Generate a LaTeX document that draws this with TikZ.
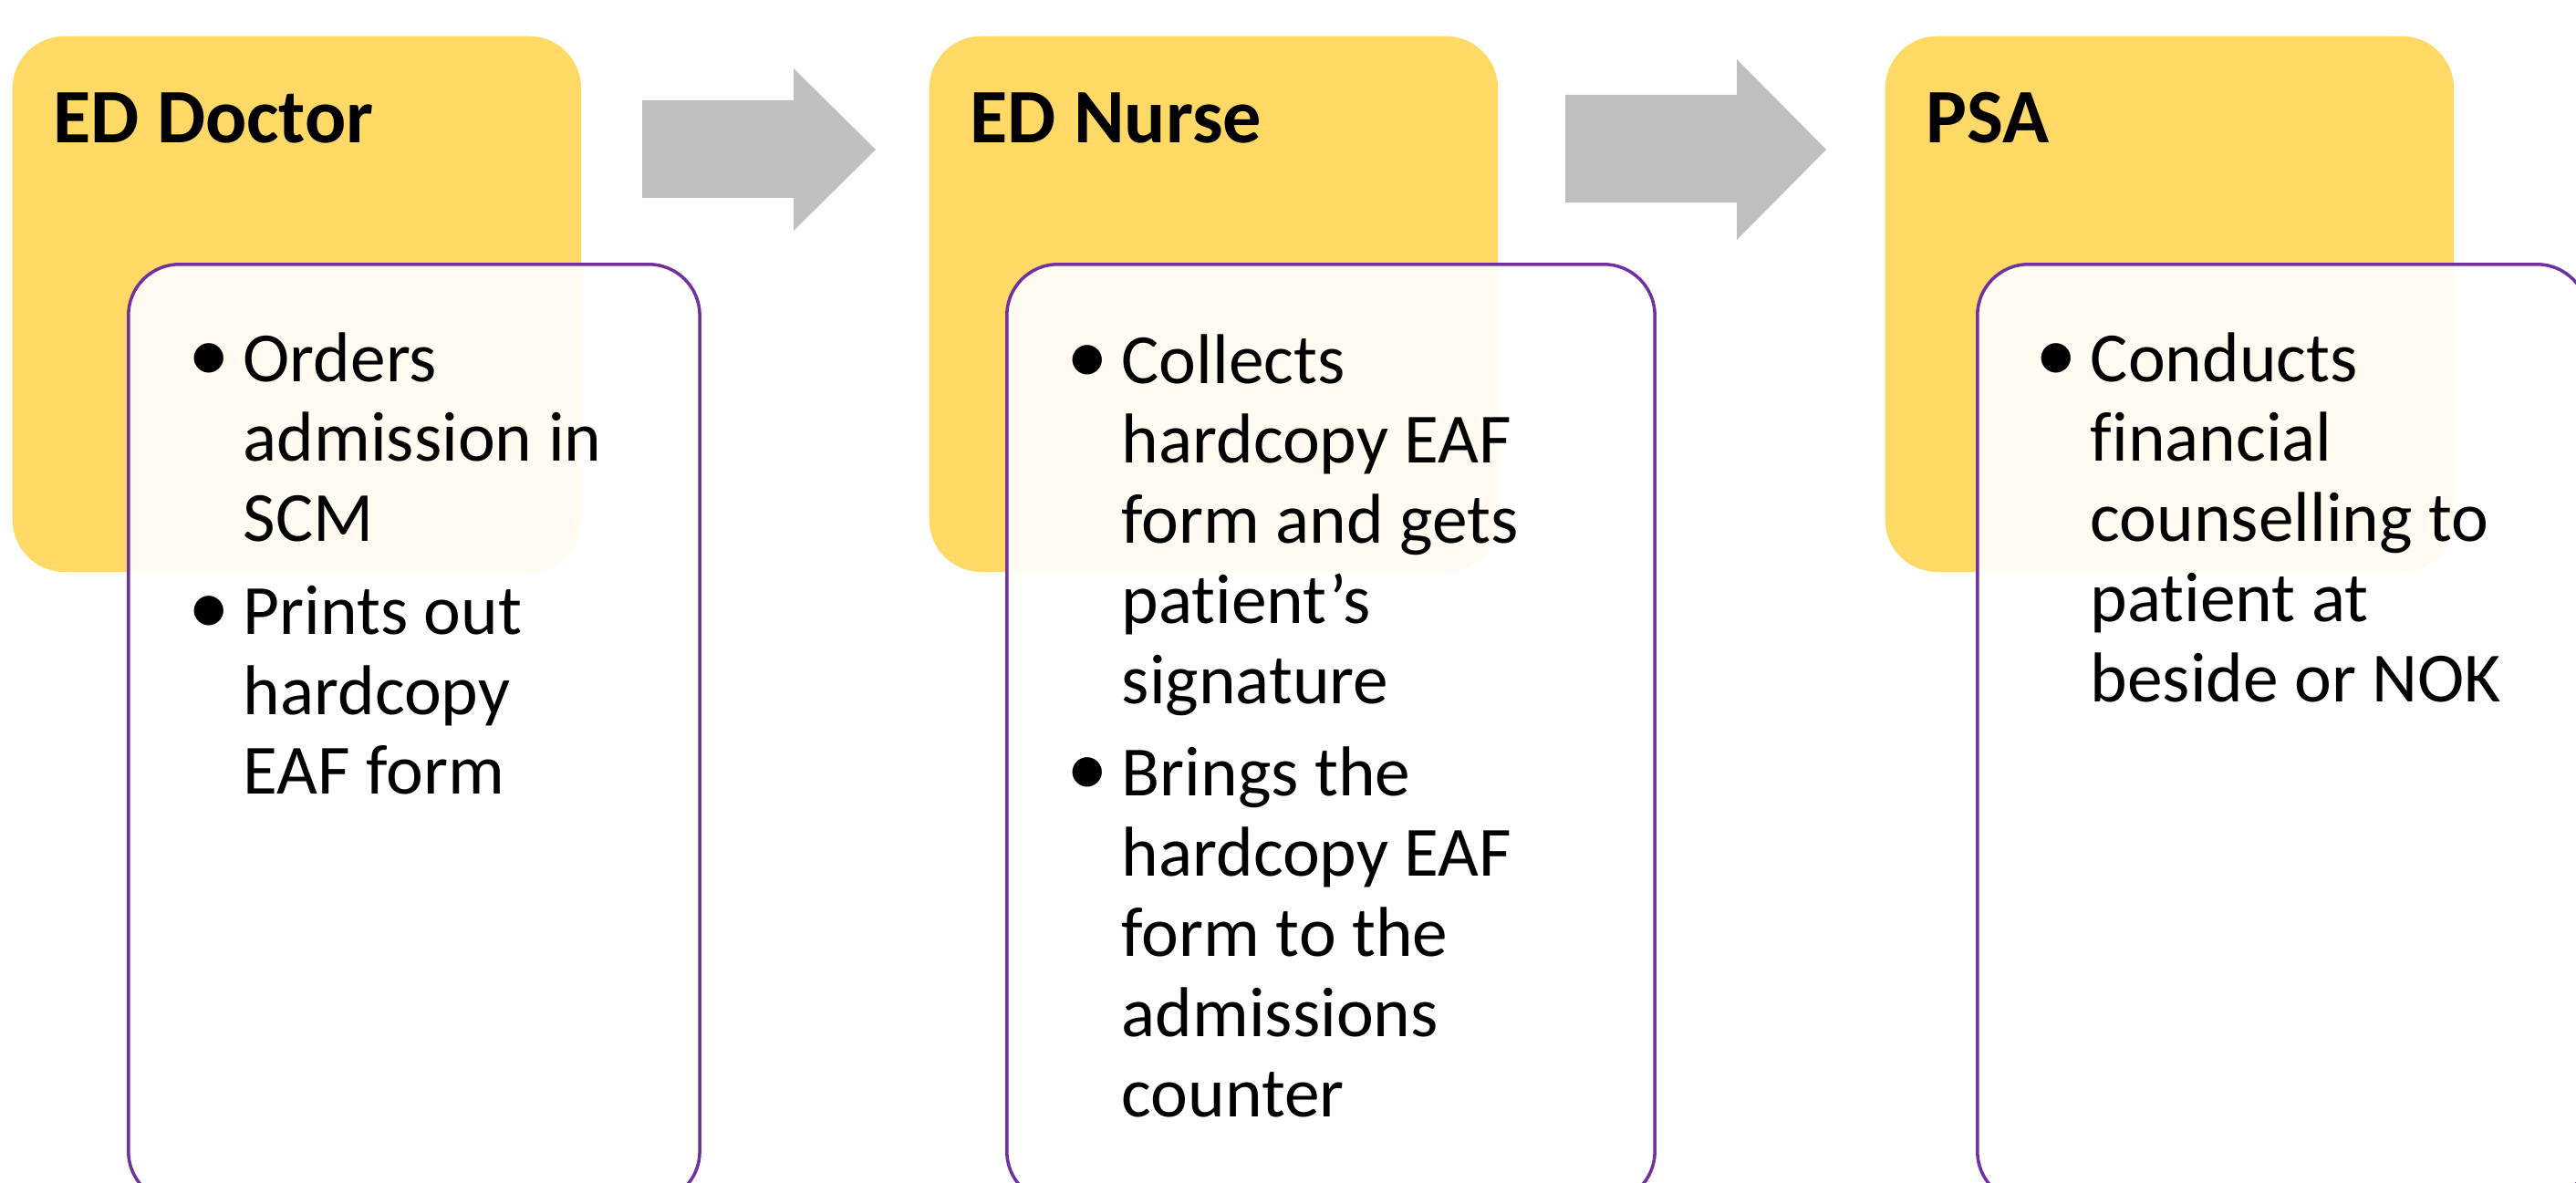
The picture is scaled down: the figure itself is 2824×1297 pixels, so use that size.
\documentclass[tikz,border=0pt]{standalone}
\usepackage{fontspec}
\setmainfont{Carlito}[Ligatures=NoCommon]
\definecolor{roleyellow}{RGB}{255, 217, 102}
\definecolor{notepurple}{RGB}{112, 48, 160}
\definecolor{arrowgray}{RGB}{191, 191, 191}
\usepackage{tikz}
\usetikzlibrary{positioning, calc}
\newcommand{\notebullet}{{\fontsize{26}{25}\selectfont\textbullet}}

\begin{document}
\begin{tikzpicture}[x=0.01cm, y=-0.01cm,
  rolebox/.style={fill=roleyellow, rounded corners=0.57cm, minimum width=6.23cm, minimum height=5.87cm, inner sep=0pt, anchor=north west},
  notebox/.style={draw=notepurple, line width=1pt, fill=white, fill opacity=0.9, rounded corners=0.56cm, inner sep=0pt, anchor=north west, minimum height=10.28cm},
  roletitle/.style={font=\bfseries\fontsize{24}{29}\selectfont, anchor=base west, inner sep=0pt},
  notetext/.style={font=\fontsize{22}{25}\selectfont, anchor=base west, inner sep=0pt, align=left},
  blockarrow/.style={fill=arrowgray}]
  \useasboundingbox (0,0) rectangle (2824,1297);
  \clip (0,0) rectangle (2824,1297);

  % Roles
  \node[rolebox] (doc) at (13,39) {};
  \node[rolebox] (nurse) at (1018,39) {};
  \node[rolebox] (psa) at (2066,39) {};

  \node[roletitle] (docT) at ([shift={(45,118)}]doc.north west) {ED Doctor};
  \node[roletitle] (nurseT) at ([shift={(45,118)}]nurse.north west) {ED Nurse};
  \node[roletitle] (psaT) at ([shift={(45,118)}]psa.north west) {PSA};

  % Flow arrows
  \coordinate (arr1) at (704,164);
  \coordinate (arr2) at (1716,163);
  \fill[blockarrow] (arr1) ++(0,-54) -- ++(166,0) -- ++(0,-35) -- ++(90,89) -- ++(-90,89) -- ++(0,-36) -- ++(-166,0) -- cycle;
  \fill[blockarrow] (arr2) ++(0,-59) -- ++(188,0) -- ++(0,-39) -- ++(98,99) -- ++(-98,99) -- ++(0,-41) -- ++(-188,0) -- cycle;

  % Tasks
  \node[notebox, minimum width=6.26cm] (docN) at (139,288) {};
  \node[notebox, minimum width=7.10cm] (nurseN) at (1102,288) {};
  \node[notebox, minimum width=6.69cm] (psaN) at (2166,288) {};

  \node[notetext] (docL) at ([shift={(67,130)}]docN.north west) {%
    \begin{tabular}[t]{@{}p{0.6cm}@{}l@{}}
      \notebullet & Orders\\
      & admission in\\
      & SCM\\[3.8pt]
      \notebullet & Prints out\\
      & hardcopy\\
      & EAF form
    \end{tabular}};
  \node[notetext] (nurseL) at ([shift={(67,132)}]nurseN.north west) {%
    \begin{tabular}[t]{@{}p{0.6cm}@{}l@{}}
      \notebullet & Collects\\
      & hardcopy EAF\\
      & form and gets\\
      & patient’s\\
      & signature\\[3.8pt]
      \notebullet & Brings the\\
      & hardcopy EAF\\
      & form to the\\
      & admissions\\
      & counter
    \end{tabular}};
  \node[notetext] (psaL) at ([shift={(65,130)}]psaN.north west) {%
    \begin{tabular}[t]{@{}p{0.6cm}@{}l@{}}
      \notebullet & Conducts\\
      & financial\\
      & counselling to\\
      & patient at\\
      & beside or NOK
    \end{tabular}};
\end{tikzpicture}
\end{document}
